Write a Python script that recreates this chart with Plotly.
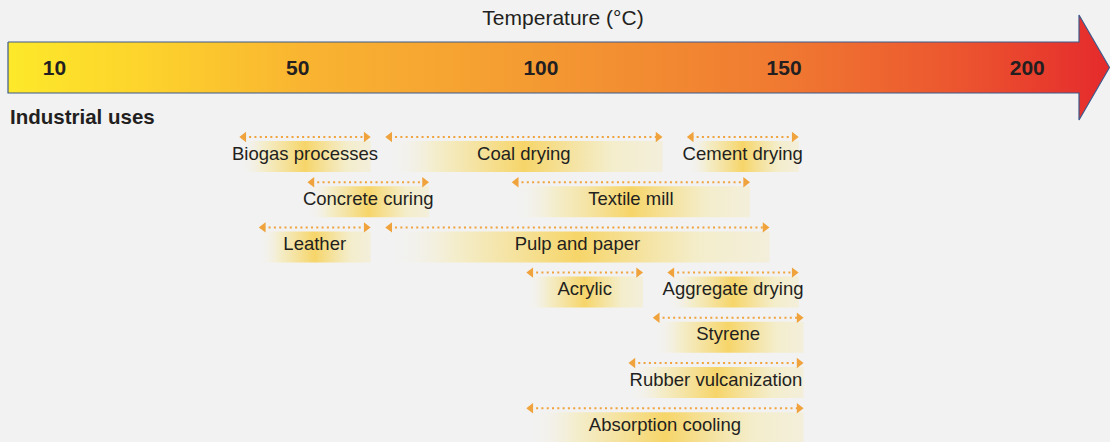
import plotly.graph_objects as go

# ---------------- data ----------------
tick_labels = ["10", "50", "100", "150", "200"]
tick_positions = [0, 50, 100, 150, 200]   # schematic axis positions (°C scale)

uses = ["Biogas processes", "Coal drying", "Cement drying",
        "Concrete curing", "Textile mill",
        "Leather", "Pulp and paper",
        "Acrylic", "Aggregate drying",
        "Styrene", "Rubber vulcanization", "Absorption cooling"]
use_row = [0, 0, 0, 1, 1, 2, 2, 3, 3, 4, 5, 6]
temp_low = [38, 68, 130, 52, 94, 42, 68, 97, 126, 123, 118, 97]
temp_high = [65, 125, 153, 77, 143, 65, 147, 121, 153, 154, 154, 154]

# ---------------- layout helpers ----------------
W, H = 1110, 442
BG = "#f2f2f2"
TXT = "#231f20"
PX_PER_DEG = 4.864
PX_REF, T_REF = 662.5, 125.0


def px2t(px):
    return T_REF + (px - PX_REF) / PX_PER_DEG


def row_y(r):
    return 137 + 45.2 * r


fig = go.Figure()

# gradient arrow
ax_px = [8, 1079, 1079, 1109.5, 1079, 1079, 8, 8]
ay_px = [42, 42, 15, 67.5, 120, 93, 93, 42]
fig.add_trace(go.Scatter(
    x=[px2t(p) for p in ax_px], y=ay_px, mode="lines", fill="toself",
    line=dict(color="#3d5a8c", width=1.2),
    fillgradient=dict(type="horizontal", colorscale=[
        [0.0, "#fde92a"], [0.12, "#fdd42c"], [0.27, "#f9b431"],
        [0.48, "#f49a32"], [0.70, "#f07a31"], [0.86, "#ec562f"],
        [1.0, "#e52a2c"]]),
    hoverinfo="skip"))

# tick labels inside the arrow
fig.add_trace(go.Scatter(
    x=tick_positions, y=[70] * len(tick_positions), mode="text",
    text=tick_labels, textposition="middle center",
    textfont=dict(family="Liberation Sans", size=21, color=TXT, weight="bold"),
    hoverinfo="skip"))

# glow bands under labels
glow_scale = [[0.0, "rgba(242,242,242,0)"], [0.18, "rgba(244,237,200,0.9)"],
              [0.5, "rgba(246,213,105,1)"], [0.82, "rgba(244,237,200,0.9)"],
              [1.0, "rgba(243,238,214,0.85)"]]
for lo, hi, r in zip(temp_low, temp_high, use_row):
    y0 = row_y(r) + 4
    y1 = row_y(r) + 35
    fig.add_trace(go.Scatter(
        x=[lo, hi, hi, lo, lo], y=[y0, y0, y1, y1, y0], mode="lines",
        fill="toself", line=dict(width=0, color="rgba(0,0,0,0)"),
        fillgradient=dict(type="horizontal", colorscale=glow_scale),
        hoverinfo="skip"))

# dotted double arrows
inset = 4.5 / PX_PER_DEG
lx, ly, mx, my, ms = [], [], [], [], []
for lo, hi, r in zip(temp_low, temp_high, use_row):
    y = row_y(r)
    lx += [lo + inset, hi - inset, None]
    ly += [y, y, None]
    mx += [lo + inset, hi - inset]
    my += [y, y]
    ms += ["triangle-left", "triangle-right"]
ORANGE = "#f0a33c"
fig.add_trace(go.Scatter(x=lx, y=ly, mode="lines",
                         line=dict(color=ORANGE, width=2, dash="2px,3.3px"),
                         hoverinfo="skip"))
fig.add_trace(go.Scatter(x=mx, y=my, mode="markers",
                         marker=dict(symbol=ms, size=9, color=ORANGE, line=dict(width=0)),
                         hoverinfo="skip"))

# labels
fig.add_trace(go.Scatter(
    x=[(lo + hi) / 2 for lo, hi in zip(temp_low, temp_high)],
    y=[row_y(r) + 18 for r in use_row], mode="text", text=uses,
    textposition="middle center",
    textfont=dict(family="Liberation Sans", size=18.5, color=TXT),
    hoverinfo="skip"))

fig.add_annotation(x=px2t(8), y=116, xref="x", yref="y", text="<b>Industrial uses</b>",
                   showarrow=False, xanchor="left", yanchor="middle",
                   font=dict(family="Liberation Sans", size=20.5, color=TXT))

fig.update_layout(
    width=W, height=H, margin=dict(l=0, r=0, t=0, b=0),
    paper_bgcolor=BG, plot_bgcolor=BG, showlegend=False, hovermode=False,
    title=dict(text="Temperature (°C)", x=563 / W, xanchor="center",
               y=1 - 18 / H, yanchor="middle", yref="container",
               font=dict(family="Liberation Sans", size=21, color=TXT)),
    xaxis=dict(range=[px2t(0), px2t(W)], visible=False, fixedrange=True),
    yaxis=dict(range=[H, 0], visible=False, fixedrange=True),
)

fig.write_html("out.html", config={"displayModeBar": False},
               post_script="document.body.style.margin='0';"
                           "document.body.style.background='%s';" % BG)
